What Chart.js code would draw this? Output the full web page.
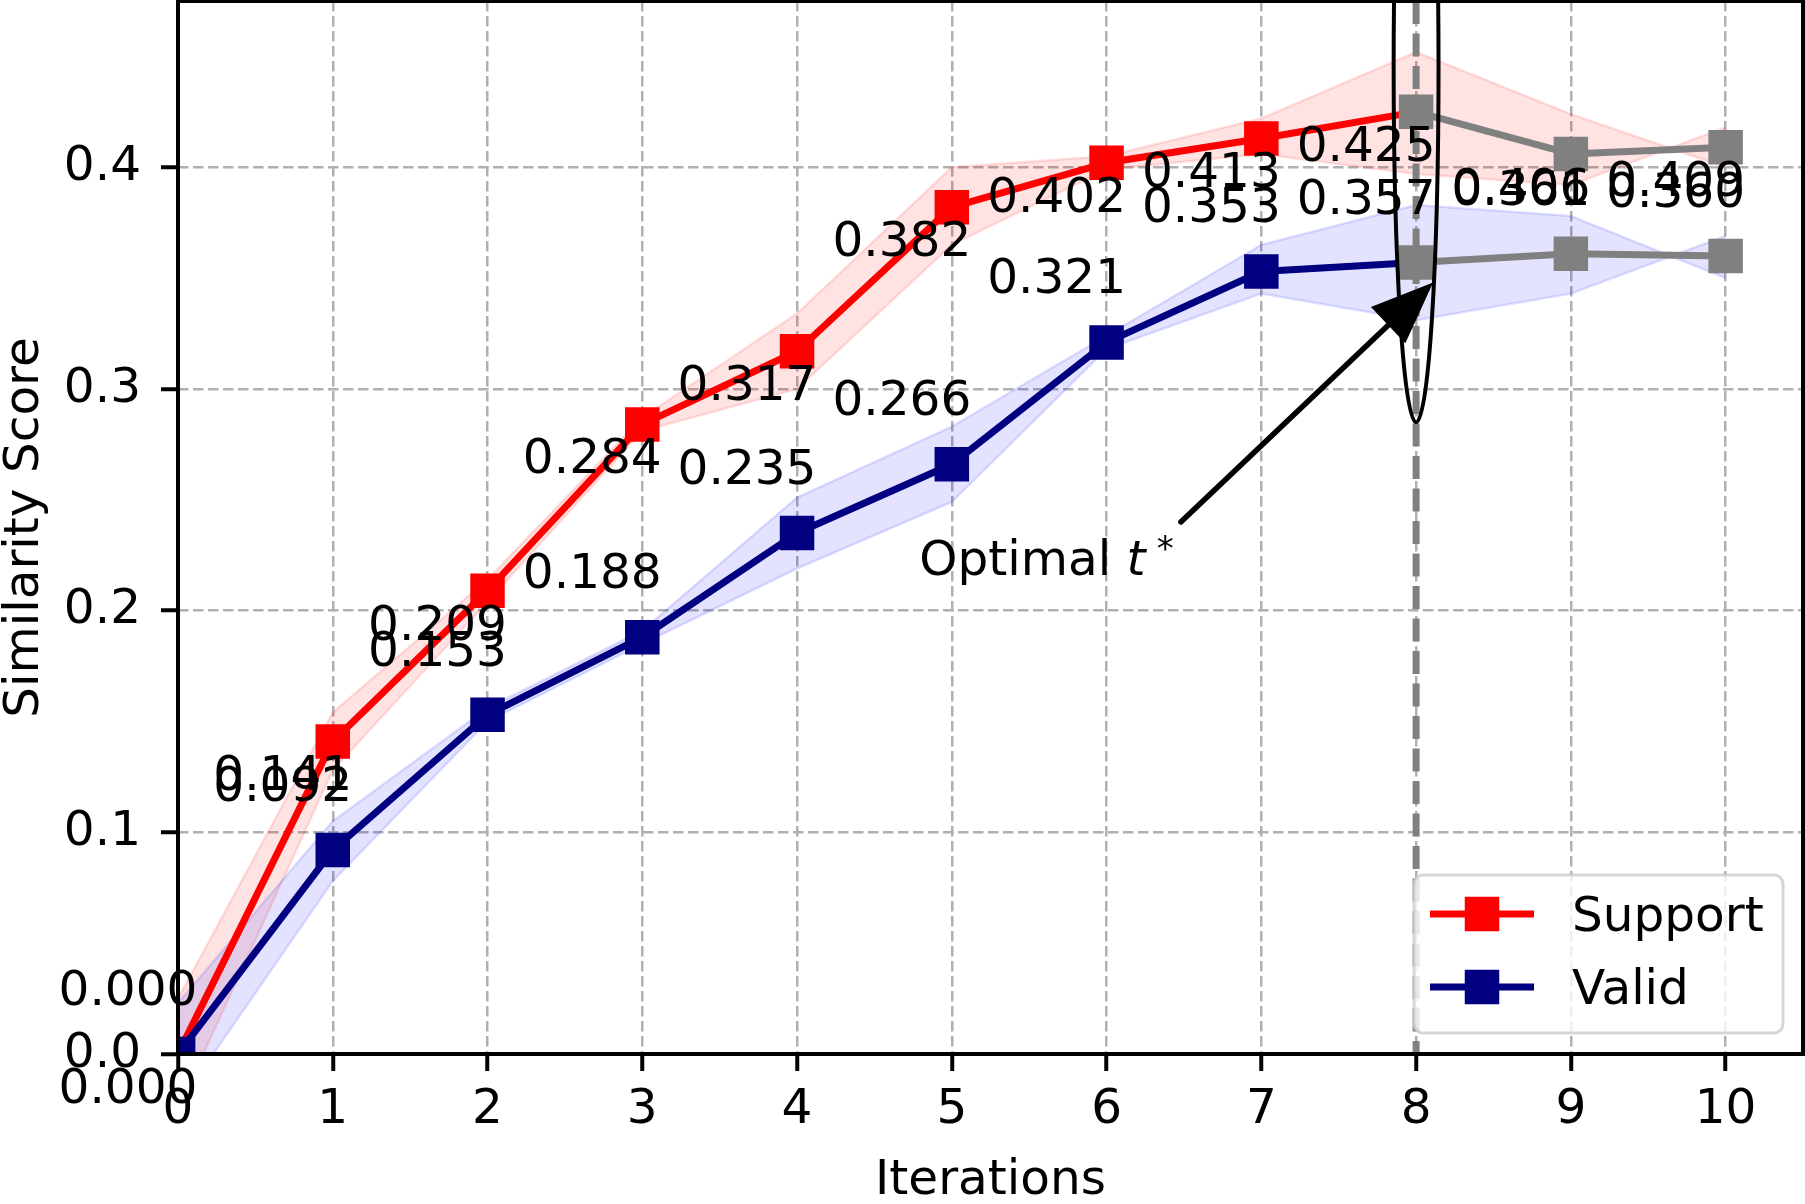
<!DOCTYPE html>
<html>
<head>
<meta charset="utf-8">
<title>Similarity Score vs Iterations</title>
<script src="https://cdn.jsdelivr.net/npm/chart.js@4.4.1/dist/chart.umd.min.js"></script>
<style>
  html, body { margin: 0; padding: 0; background: #ffffff; }
  #wrap { width: 1805px; height: 1204px; }
</style>
</head>
<body>
<div id="wrap"><canvas id="chart" width="1805" height="1204"></canvas></div>
<script>
// Data
const iterations = [0, 1, 2, 3, 4, 5, 6, 7, 8, 9, 10];
const supportScores = [0.000, 0.141, 0.209, 0.284, 0.317, 0.382, 0.402, 0.413, 0.425, 0.406, 0.409];
const validScores   = [0.000, 0.092, 0.153, 0.188, 0.235, 0.266, 0.321, 0.353, 0.357, 0.361, 0.360];

// Shaded bands (two edges each, they cross after t*)
const supportBandHigh = [0.025, 0.154, 0.214, 0.287, 0.334, 0.400, 0.405, 0.422, 0.452, 0.424, 0.400];
const supportBandLow  = [-0.025, 0.128, 0.204, 0.281, 0.300, 0.365, 0.399, 0.406, 0.397, 0.392, 0.418];
const validBandHigh   = [0.023, 0.105, 0.156, 0.191, 0.251, 0.283, 0.324, 0.365, 0.383, 0.378, 0.350];
const validBandLow    = [-0.023, 0.078, 0.150, 0.185, 0.219, 0.249, 0.318, 0.343, 0.331, 0.343, 0.369];

// Axes
const xTicks = [0, 1, 2, 3, 4, 5, 6, 7, 8, 9, 10];
const yTicks = [0.0, 0.1, 0.2, 0.3, 0.4];
const xRange = [0, 10.5];
const yRange = [0, 0.475];

// Annotation
const optimalIteration = 8;
const ellipseCenter = { x: 8, y: 0.445 };
const ellipseSize = { w: 0.29, h: 0.32 };
const arrowTip = { x: 8.11, y: 0.348 };
const arrowTail = { x: 6.48, y: 0.240 };
const noteAnchor = { x: 4.79, y: 0.216 };

const RED = '#ff0000';
const NAVY = '#000080';
const GRAY = '#808080';
const FONT = '"DejaVu Sans"';
const FONT_SIZE = 48.5;

const toPoints = values => values.map((v, i) => ({ x: iterations[i], y: v }));

function seriesDataset(label, values, color, order) {
    return {
        label: label,
        data: toPoints(values),
        order: order,
        borderColor: color,
        borderWidth: 7,
        borderJoinStyle: 'round',
        tension: 0,
        fill: false,
        pointStyle: 'rect',
        pointRadius: 24.4,
        pointHoverRadius: 24.4,
        pointBorderWidth: 0,
        pointBackgroundColor: iterations.map(it => it >= optimalIteration ? GRAY : color),
        segment: {
            borderColor: ctx => iterations[ctx.p0DataIndex] >= optimalIteration ? GRAY : color
        }
    };
}

function bandDatasets(high, low, rgb, order) {
    const edge = `rgba(${rgb},0.12)`;
    return [
        { data: toPoints(high), order: order, borderColor: edge, borderWidth: 2.5, pointRadius: 0, fill: false, tension: 0 },
        { data: toPoints(low), order: order, borderColor: edge, borderWidth: 2.5, pointRadius: 0,
          fill: '-1', backgroundColor: `rgba(${rgb},0.11)`, tension: 0 }
    ];
}

// Labels, annotation, frame, legend
const overlayPlugin = {
    id: 'overlay',
    afterDraw(chart) {
        const { ctx, chartArea: area, scales: { x, y } } = chart;
        const px = x.getPixelForValue(optimalIteration);

        ctx.save();
        ctx.beginPath();
        ctx.rect(area.left, area.top, area.right - area.left, area.bottom - area.top);
        ctx.clip();

        // vertical marker at t*
        ctx.strokeStyle = GRAY;
        ctx.lineWidth = 7;
        ctx.setLineDash([23, 9.5]);
        ctx.beginPath();
        ctx.moveTo(px, area.top);
        ctx.lineTo(px, area.bottom);
        ctx.stroke();

        // ellipse around t*
        ctx.setLineDash([]);
        ctx.strokeStyle = '#000000';
        ctx.lineWidth = 4;
        const cx = x.getPixelForValue(ellipseCenter.x);
        const cy = y.getPixelForValue(ellipseCenter.y);
        const rx = Math.abs(x.getPixelForValue(ellipseCenter.x + ellipseSize.w / 2) - cx);
        const ry = Math.abs(y.getPixelForValue(ellipseCenter.y + ellipseSize.h / 2) - cy);
        ctx.beginPath();
        ctx.ellipse(cx, cy, rx, ry, 0, 0, Math.PI * 2);
        ctx.stroke();
        ctx.restore();

        // frame
        ctx.save();
        ctx.strokeStyle = '#000000';
        ctx.lineWidth = 4;
        ctx.strokeRect(area.left, area.top, area.right - area.left, area.bottom - area.top);
        ctx.restore();

        // value labels
        ctx.save();
        ctx.fillStyle = '#000000';
        ctx.font = `${FONT_SIZE}px ${FONT}`;
        ctx.textAlign = 'center';
        ctx.textBaseline = 'alphabetic';
        iterations.forEach((it, i) => {
            const lx = x.getPixelForValue(it) - 50;
            ctx.fillText(supportScores[i].toFixed(3), lx, y.getPixelForValue(supportScores[i]) + 49);
            ctx.fillText(validScores[i].toFixed(3), lx, y.getPixelForValue(validScores[i]) - 49);
        });
        ctx.restore();

        // arrow
        ctx.save();
        const tip = { x: x.getPixelForValue(arrowTip.x), y: y.getPixelForValue(arrowTip.y) };
        const tail = { x: x.getPixelForValue(arrowTail.x), y: y.getPixelForValue(arrowTail.y) };
        const ang = Math.atan2(tip.y - tail.y, tip.x - tail.x);
        const headLen = 62, headHalf = 25;
        const bx = tip.x - headLen * Math.cos(ang), by = tip.y - headLen * Math.sin(ang);
        ctx.strokeStyle = '#000000';
        ctx.fillStyle = '#000000';
        ctx.lineWidth = 5.5;
        ctx.lineCap = 'round';
        ctx.beginPath();
        ctx.moveTo(tail.x, tail.y);
        ctx.lineTo(bx, by);
        ctx.stroke();
        ctx.beginPath();
        ctx.moveTo(tip.x, tip.y);
        ctx.lineTo(bx - headHalf * Math.sin(ang), by + headHalf * Math.cos(ang));
        ctx.lineTo(bx + headHalf * Math.sin(ang), by - headHalf * Math.cos(ang));
        ctx.closePath();
        ctx.fill();

        // annotation text "Optimal t*"
        let tx = x.getPixelForValue(noteAnchor.x);
        const ty = y.getPixelForValue(noteAnchor.y);
        ctx.textAlign = 'left';
        ctx.textBaseline = 'alphabetic';
        ctx.font = `${FONT_SIZE}px ${FONT}`;
        ctx.fillText('Optimal ', tx, ty);
        tx += ctx.measureText('Optimal ').width;
        ctx.font = `italic ${FONT_SIZE}px ${FONT}`;
        ctx.fillText('t', tx, ty);
        tx += ctx.measureText('t').width + 11;
        ctx.font = `34px ${FONT}`;
        ctx.fillText('*', tx, ty - 15);
        ctx.restore();

        // axis titles
        ctx.save();
        ctx.fillStyle = '#000000';
        ctx.font = `${FONT_SIZE}px ${FONT}`;
        ctx.textAlign = 'center';
        ctx.textBaseline = 'alphabetic';
        ctx.fillText('Iterations', (area.left + area.right) / 2, 1194);
        ctx.translate(38, (area.top + area.bottom) / 2);
        ctx.rotate(-Math.PI / 2);
        ctx.fillText('Similarity Score', 0, 0);
        ctx.restore();

        // legend
        ctx.save();
        const lw = 369, lh = 158;
        const lx = area.right - 20 - lw, ly = area.bottom - 21 - lh;
        ctx.beginPath();
        ctx.roundRect(lx, ly, lw, lh, 9);
        ctx.fillStyle = 'rgba(255,255,255,0.8)';
        ctx.fill();
        ctx.strokeStyle = 'rgba(204,204,204,0.8)';
        ctx.lineWidth = 3;
        ctx.stroke();
        const entries = [{ label: 'Support', color: RED }, { label: 'Valid', color: NAVY }];
        entries.forEach((e, i) => {
            const rowY = ly + 39 + i * 73;
            ctx.strokeStyle = e.color;
            ctx.lineWidth = 7;
            ctx.beginPath();
            ctx.moveTo(lx + 16, rowY);
            ctx.lineTo(lx + 120, rowY);
            ctx.stroke();
            ctx.fillStyle = e.color;
            ctx.fillRect(lx + 68 - 17.25, rowY - 17.25, 34.5, 34.5);
            ctx.fillStyle = '#000000';
            ctx.font = `${FONT_SIZE}px ${FONT}`;
            ctx.textAlign = 'left';
            ctx.textBaseline = 'alphabetic';
            ctx.fillText(e.label, lx + 158, rowY + 17);
        });
        ctx.restore();
    }
};

function createChart() {
    Chart.defaults.font.family = 'DejaVu Sans';
    const canvas = document.getElementById('chart');
    new Chart(canvas, {
        type: 'line',
        data: {
            datasets: [
                seriesDataset('Valid', validScores, NAVY, 0),
                seriesDataset('Support', supportScores, RED, 1),
                ...bandDatasets(supportBandHigh, supportBandLow, '255,0,0', 11),
                ...bandDatasets(validBandHigh, validBandLow, '0,0,255', 10)
            ]
        },
        options: {
            responsive: false,
            animation: false,
            events: [],
            layout: { autoPadding: false, padding: { top: 1, right: 2, bottom: 0, left: 0 } },
            plugins: {
                legend: { display: false },
                tooltip: { enabled: false }
            },
            scales: {
                x: {
                    type: 'linear',
                    min: xRange[0],
                    max: xRange[1],
                    afterBuildTicks: s => { s.ticks = xTicks.map(v => ({ value: v })); },
                    afterFit: s => { s.height = 150; s.paddingLeft = 0; s.paddingRight = 0; },
                    ticks: {
                        color: '#000000',
                        font: { size: FONT_SIZE },
                        padding: 10,
                        maxRotation: 0,
                        callback: v => String(v)
                    },
                    grid: {
                        color: '#b0b0b0',
                        lineWidth: 2.5,
                        tickLength: 17,
                        tickWidth: 4,
                        tickColor: '#000000',
                        tickBorderDash: []
                    },
                    border: { display: false, dash: [10.5, 4.5] }
                },
                y: {
                    type: 'linear',
                    min: yRange[0],
                    max: yRange[1],
                    afterBuildTicks: s => { s.ticks = yTicks.map(v => ({ value: v })); },
                    afterFit: s => { s.width = 178; s.paddingTop = 0; s.paddingBottom = 0; },
                    ticks: {
                        color: '#000000',
                        font: { size: FONT_SIZE },
                        padding: 20,
                        callback: v => v.toFixed(1)
                    },
                    grid: {
                        color: '#b0b0b0',
                        lineWidth: 2.5,
                        tickLength: 17,
                        tickWidth: 4,
                        tickColor: '#000000',
                        tickBorderDash: []
                    },
                    border: { display: false, dash: [10.5, 4.5] }
                }
            }
        },
        plugins: [overlayPlugin]
    });
}

createChart();
</script>
</body>
</html>
